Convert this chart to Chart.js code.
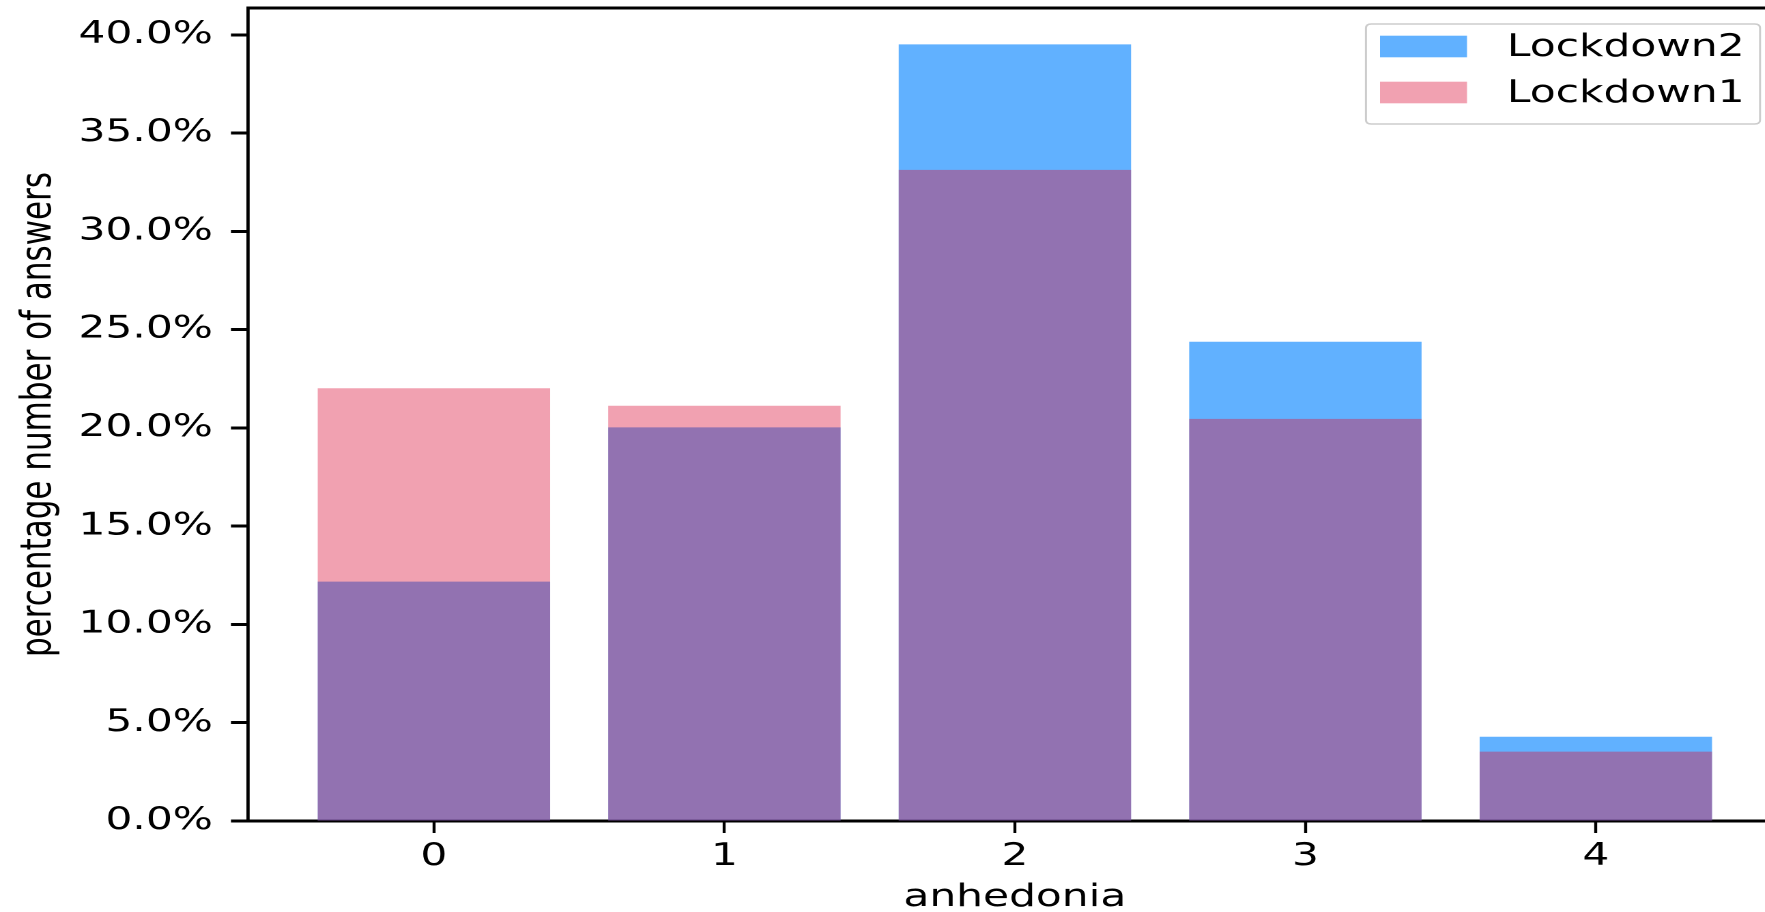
<!DOCTYPE html>
<html><head><meta charset="utf-8">
<script src="https://cdn.jsdelivr.net/npm/chart.js@4/dist/chart.umd.min.js"></script>
<style>
html,body{margin:0;padding:0;background:#fff;overflow:hidden;width:1765px;height:912px;}
#wrap{position:absolute;left:0;top:0;width:1310px;height:912px;transform:scaleX(1.365);transform-origin:0 0;}
canvas{display:block;}
</style></head><body>
<div id="wrap"><canvas id="c" width="1310" height="912"></canvas></div>
<script>
// ---- data ----
const categories = [0, 1, 2, 3, 4];
const xTickLabels = ['0', '1', '2', '3', '4'];
const lockdown1 = [22.02, 21.13, 33.13, 20.46, 3.53];
const lockdown2 = [12.18, 20.03, 39.52, 24.39, 4.29];
const yTickValues = [0, 5, 10, 15, 20, 25, 30, 35, 40];
const seriesNames = ['Lockdown1', 'Lockdown2'];
const xTitle = 'anhedonia';
const yTitle = 'percentage number of answers';
const xMin = -0.64, xMax = 4.64, yMin = 0, yMax = 41.37;

Chart.defaults.font.family = "'DejaVu Sans', sans-serif";
Chart.defaults.font.size = 31;
Chart.defaults.color = '#000';

const frame = {
  id: 'frame',
  afterDraw(chart) {
    const {ctx, chartArea: a} = chart;
    ctx.save();
    ctx.strokeStyle = '#000';
    ctx.lineWidth = 3;
    ctx.beginPath();
    ctx.moveTo(a.left - 1.2, a.top);
    ctx.lineTo(a.right, a.top);
    ctx.stroke();
    ctx.lineWidth = 2.4;
    ctx.beginPath();
    ctx.moveTo(a.right, a.top);
    ctx.lineTo(a.right, a.bottom);
    ctx.stroke();
    ctx.restore();
  }
};

const boxLegend = {
  id: 'boxLegend',
  afterDraw(chart) {
    const ctx = chart.ctx;
    const L = 1000.7, T = 24, R = 1289.4, B = 124, r = 4;
    ctx.save();
    ctx.beginPath();
    ctx.moveTo(L + r, T); ctx.lineTo(R - r, T); ctx.quadraticCurveTo(R, T, R, T + r);
    ctx.lineTo(R, B - r); ctx.quadraticCurveTo(R, B, R - r, B);
    ctx.lineTo(L + r, B); ctx.quadraticCurveTo(L, B, L, B - r);
    ctx.lineTo(L, T + r); ctx.quadraticCurveTo(L, T, L + r, T);
    ctx.closePath();
    ctx.fillStyle = 'rgba(255,255,255,0.8)';
    ctx.fill();
    ctx.strokeStyle = '#cccccc';
    ctx.lineWidth = 1.5;
    ctx.stroke();
    const ds = chart.data.datasets.slice().reverse();
    ds.forEach((d, i) => {
      const cy = 46.5 + i * 46;
      ctx.fillStyle = d.backgroundColor;
      ctx.fillRect(1011, cy - 10.8, 63.7, 21.6);
      ctx.fillStyle = '#000';
      ctx.font = "31px 'DejaVu Sans'";
      ctx.textBaseline = 'alphabetic';
      ctx.textAlign = 'left';
      ctx.fillText(d.label, 1104, cy + 9.5);
    });
    ctx.restore();
  }
};

new Chart(document.getElementById('c'), {
  type: 'bar',
  data: {
    datasets: [
      { label: seriesNames[0], data: categories.map((c, i) => ({x: c, y: lockdown1[i]})),
        backgroundColor: 'rgba(220,20,60,0.4)', borderWidth: 0, grouped: false,
        barPercentage: 0.8, categoryPercentage: 1.0 },
      { label: seriesNames[1], data: categories.map((c, i) => ({x: c, y: lockdown2[i]})),
        backgroundColor: 'rgba(30,144,255,0.7)', borderWidth: 0, grouped: false,
        barPercentage: 0.8, categoryPercentage: 1.0 }
    ]
  },
  options: {
    responsive: false,
    animation: false,
    devicePixelRatio: 2,
    layout: { padding: { left: 0, top: 8, right: 4.7, bottom: 0 } },
    plugins: { legend: { display: false }, tooltip: { enabled: false } },
    scales: {
      x: {
        type: 'linear', min: xMin, max: xMax, z: 1, offset: false,
        afterBuildTicks: s => { s.ticks = categories.map(v => ({value: v})); },
        afterFit: s => { s.height = 91; s.paddingLeft = 0; s.paddingRight = 0; },
        ticks: { callback: v => xTickLabels[categories.indexOf(v)], padding: 5.5, maxRotation: 0, autoSkip: false, color: '#000', font: {size: 31} },
        grid: { display: true, offset: false, drawOnChartArea: false, drawTicks: true, tickLength: 12, tickWidth: 2.2, tickColor: '#000' },
        border: { display: true, color: '#000', width: 3 },
        title: { display: true, text: xTitle, color: '#000', font: {size: 31, lineHeight: 0.9}, padding: 0 }
      },
      y: {
        type: 'linear', min: yMin, max: yMax, z: 1,
        afterBuildTicks: s => { s.ticks = yTickValues.map(v => ({value: v})); },
        afterFit: s => { s.width = 181.7; s.paddingTop = 0; s.paddingBottom = 0; },
        ticks: { callback: v => v.toFixed(1) + '%', padding: 13.2, color: '#000', font: {size: 31} },
        grid: { display: true, drawOnChartArea: false, drawTicks: true, tickLength: 12.5, tickWidth: 3, tickColor: '#000' },
        border: { display: true, color: '#000', width: 2.4 },
        title: { display: true, text: yTitle, color: '#000', font: {size: 31}, padding: {top: 10.5, bottom: 0} }
      }
    }
  },
  plugins: [frame, boxLegend]
});
</script>
</body></html>
